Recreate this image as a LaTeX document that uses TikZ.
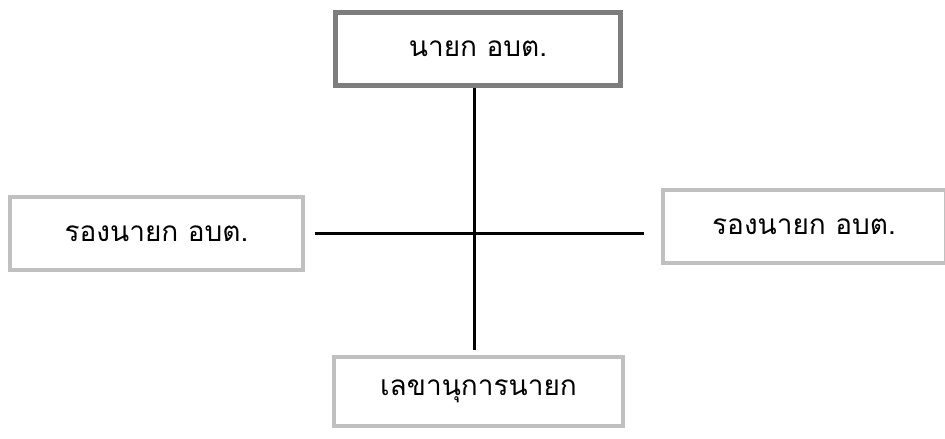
\documentclass[tikz,border=0pt]{standalone}
\usepackage{fontspec}
\newfontfamily\thaifont[Script=Thai]{Loma}
\definecolor{topgray}{RGB}{125, 125, 125}
\definecolor{boxgray}{RGB}{192, 192, 192}
\usetikzlibrary{positioning, calc}

\begin{document}
\begin{tikzpicture}[x=1pt, y=-1pt,
    orgbox/.style={draw=boxgray, line width=4pt, fill=white, inner sep=0pt,
        font=\thaifont\fontsize{28}{32}\selectfont},
    topbox/.style={orgbox, draw=topgray, line width=5pt},
    link/.style={line width=3pt, black}]
                \useasboundingbox (0,0) rectangle (945,439);

                % boxes
                \node[topbox, minimum width=285pt, minimum height=73pt] (nayok) at (478,49) {นายก อบต.};
                \node[orgbox, minimum width=293pt, minimum height=73pt] (rongL) at (156.5,233.5) {รองนายก อบต.};
                \node[orgbox, minimum width=283pt, minimum height=73pt] (rongR) at (804,226.5) {รองนายก อบต.};
                \node[orgbox, minimum width=289pt, minimum height=69pt] (lekha) at (478.5,391.5) {เลขานุการนายก};

                % connectors
                \coordinate (hubL) at ($(rongL.east)+(10,0)$);
                \coordinate (hubR) at ($(rongR.west)+(-17,7)$);
                \coordinate (hubB) at ($(lekha.north)+(-4.5,-5)$);
                \draw[link] (hubL) -- (hubR);
                \draw[link] (nayok.south -| hubB) -- (hubB);
            \end{tikzpicture}
\end{document}
